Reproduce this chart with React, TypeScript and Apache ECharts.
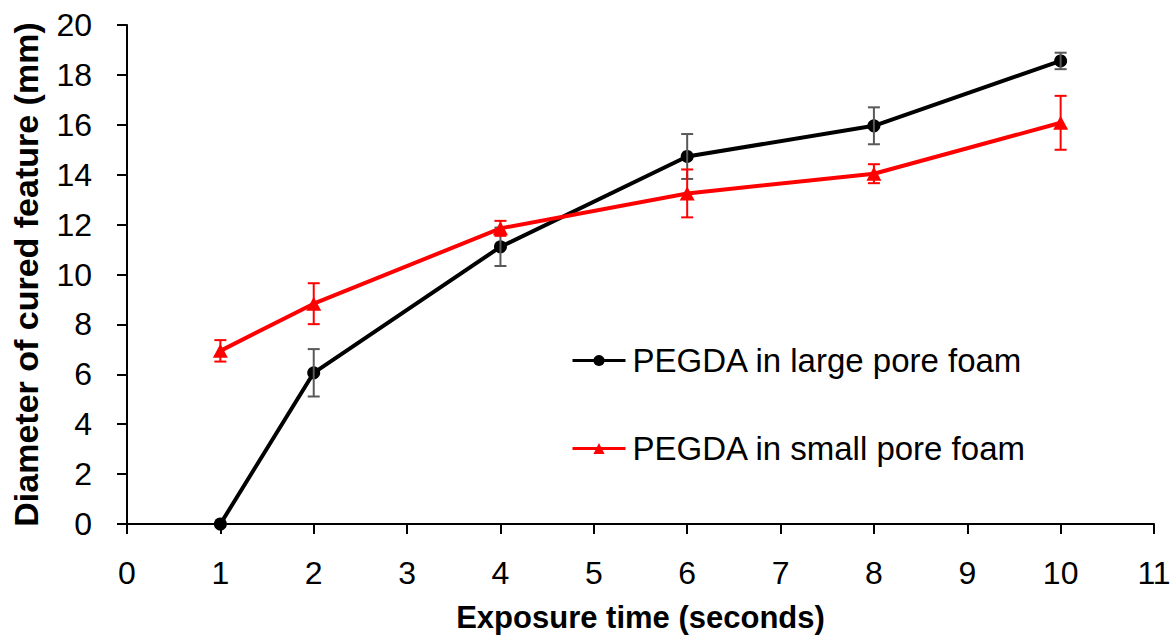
import React, { useEffect, useRef } from "react";
import * as echarts from "echarts";

const exposureLarge = [1, 2, 4, 6, 8, 10];
const diameterLarge = [0, 6.06, 11.11, 14.73, 15.96, 18.56];
const errorLarge = [0, 0.95, 0.77, 0.9, 0.74, 0.33];

const exposureSmall = [1, 2, 4, 6, 8, 10];
const diameterSmall = [6.94, 8.83, 11.85, 13.25, 14.04, 16.08];
const errorSmall = [0.43, 0.82, 0.3, 0.96, 0.38, 1.08];

const seriesNames = ["PEGDA in large pore foam", "PEGDA in small pore foam"];
const xTitle = "Exposure time (seconds)";
const yTitle = "Diameter of cured feature (mm)";

const FONT = "'Liberation Sans', Arial, sans-serif";

function errorSeries(xs: number[], ys: number[], es: number[], color: string, z: number) {
  const data = xs
    .map((x, i) => [x, ys[i] - es[i], ys[i] + es[i]])
    .filter((_, i) => es[i] > 0);
  return {
    type: "custom",
    coordinateSystem: "cartesian2d",
    data,
    z,
    silent: true,
    encode: { x: 0, y: [1, 2] },
    renderItem: (params: any, api: any) => {
      const x = api.value(0);
      const lo = api.coord([x, api.value(1)]);
      const hi = api.coord([x, api.value(2)]);
      const hw = 6;
      const style = { stroke: color, lineWidth: 2 };
      return {
        type: "group",
        children: [
          { type: "line", shape: { x1: lo[0], y1: lo[1], x2: hi[0], y2: hi[1] }, style },
          { type: "line", shape: { x1: lo[0] - hw, y1: lo[1], x2: lo[0] + hw, y2: lo[1] }, style },
          { type: "line", shape: { x1: hi[0] - hw, y1: hi[1], x2: hi[0] + hw, y2: hi[1] }, style },
        ],
      };
    },
  };
}

export default function App() {
  const ref = useRef<HTMLDivElement>(null);
  useEffect(() => {
    document.body.style.margin = "0";
    if (!ref.current) return;
    const chart = echarts.init(ref.current, undefined, { renderer: "svg" });
    const axisLine = { lineStyle: { color: "#000", width: 2 } };
    chart.setOption({
      animation: false,
      backgroundColor: "#fff",
      textStyle: { fontFamily: FONT },
      grid: { left: 127, right: 20, top: 25, bottom: 115 },
      legend: {
        data: seriesNames,
        orient: "vertical",
        left: 571,
        top: 344,
        padding: 0,
        itemWidth: 53,
        itemHeight: 14,
        itemGap: 55,
        lineStyle: { width: 3 },
        textStyle: { fontSize: 33, color: "#000", fontFamily: FONT, padding: [0, 0, 0, 2] },
        selectedMode: false,
      },
      xAxis: {
        type: "value",
        min: 0,
        max: 11,
        interval: 1,
        name: xTitle,
        nameLocation: "middle",
        nameGap: 78,
        nameTextStyle: { fontSize: 31, fontWeight: "bold", color: "#000", fontFamily: FONT },
        axisLine: { ...axisLine, onZero: false },
        axisTick: { show: true, length: 10, lineStyle: { color: "#000", width: 2 } },
        axisLabel: { fontSize: 32, color: "#000", margin: 33, fontFamily: FONT },
        splitLine: { show: false },
      },
      yAxis: {
        type: "value",
        min: 0,
        max: 20,
        interval: 2,
        name: yTitle,
        nameLocation: "middle",
        nameGap: 84,
        nameRotate: 90,
        nameTextStyle: { fontSize: 34, fontWeight: "bold", color: "#000", fontFamily: FONT },
        axisLine: { ...axisLine, show: true },
        axisTick: { show: true, length: 10, lineStyle: { color: "#000", width: 2 } },
        axisLabel: { fontSize: 32, color: "#000", margin: 35, fontFamily: FONT },
        splitLine: { show: false },
      },
      series: [
        {
          name: seriesNames[0],
          type: "line",
          data: exposureLarge.map((x, i) => [x, diameterLarge[i]]),
          symbol: "circle",
          symbolSize: 13,
          itemStyle: { color: "#000" },
          lineStyle: { color: "#000", width: 4 },
          z: 3,
        },
        errorSeries(exposureLarge, diameterLarge, errorLarge, "#595959", 4),
        {
          name: seriesNames[1],
          type: "line",
          data: exposureSmall.map((x, i) => [x, diameterSmall[i]]),
          symbol: "triangle",
          symbolSize: [15, 14],
          itemStyle: { color: "#ff0000" },
          lineStyle: { color: "#ff0000", width: 4 },
          z: 5,
        },
        errorSeries(exposureSmall, diameterSmall, errorSmall, "#ff0000", 6),
      ],
    });
    return () => chart.dispose();
  }, []);
  return <div ref={ref} style={{ width: 1174, height: 639 }} />;
}
